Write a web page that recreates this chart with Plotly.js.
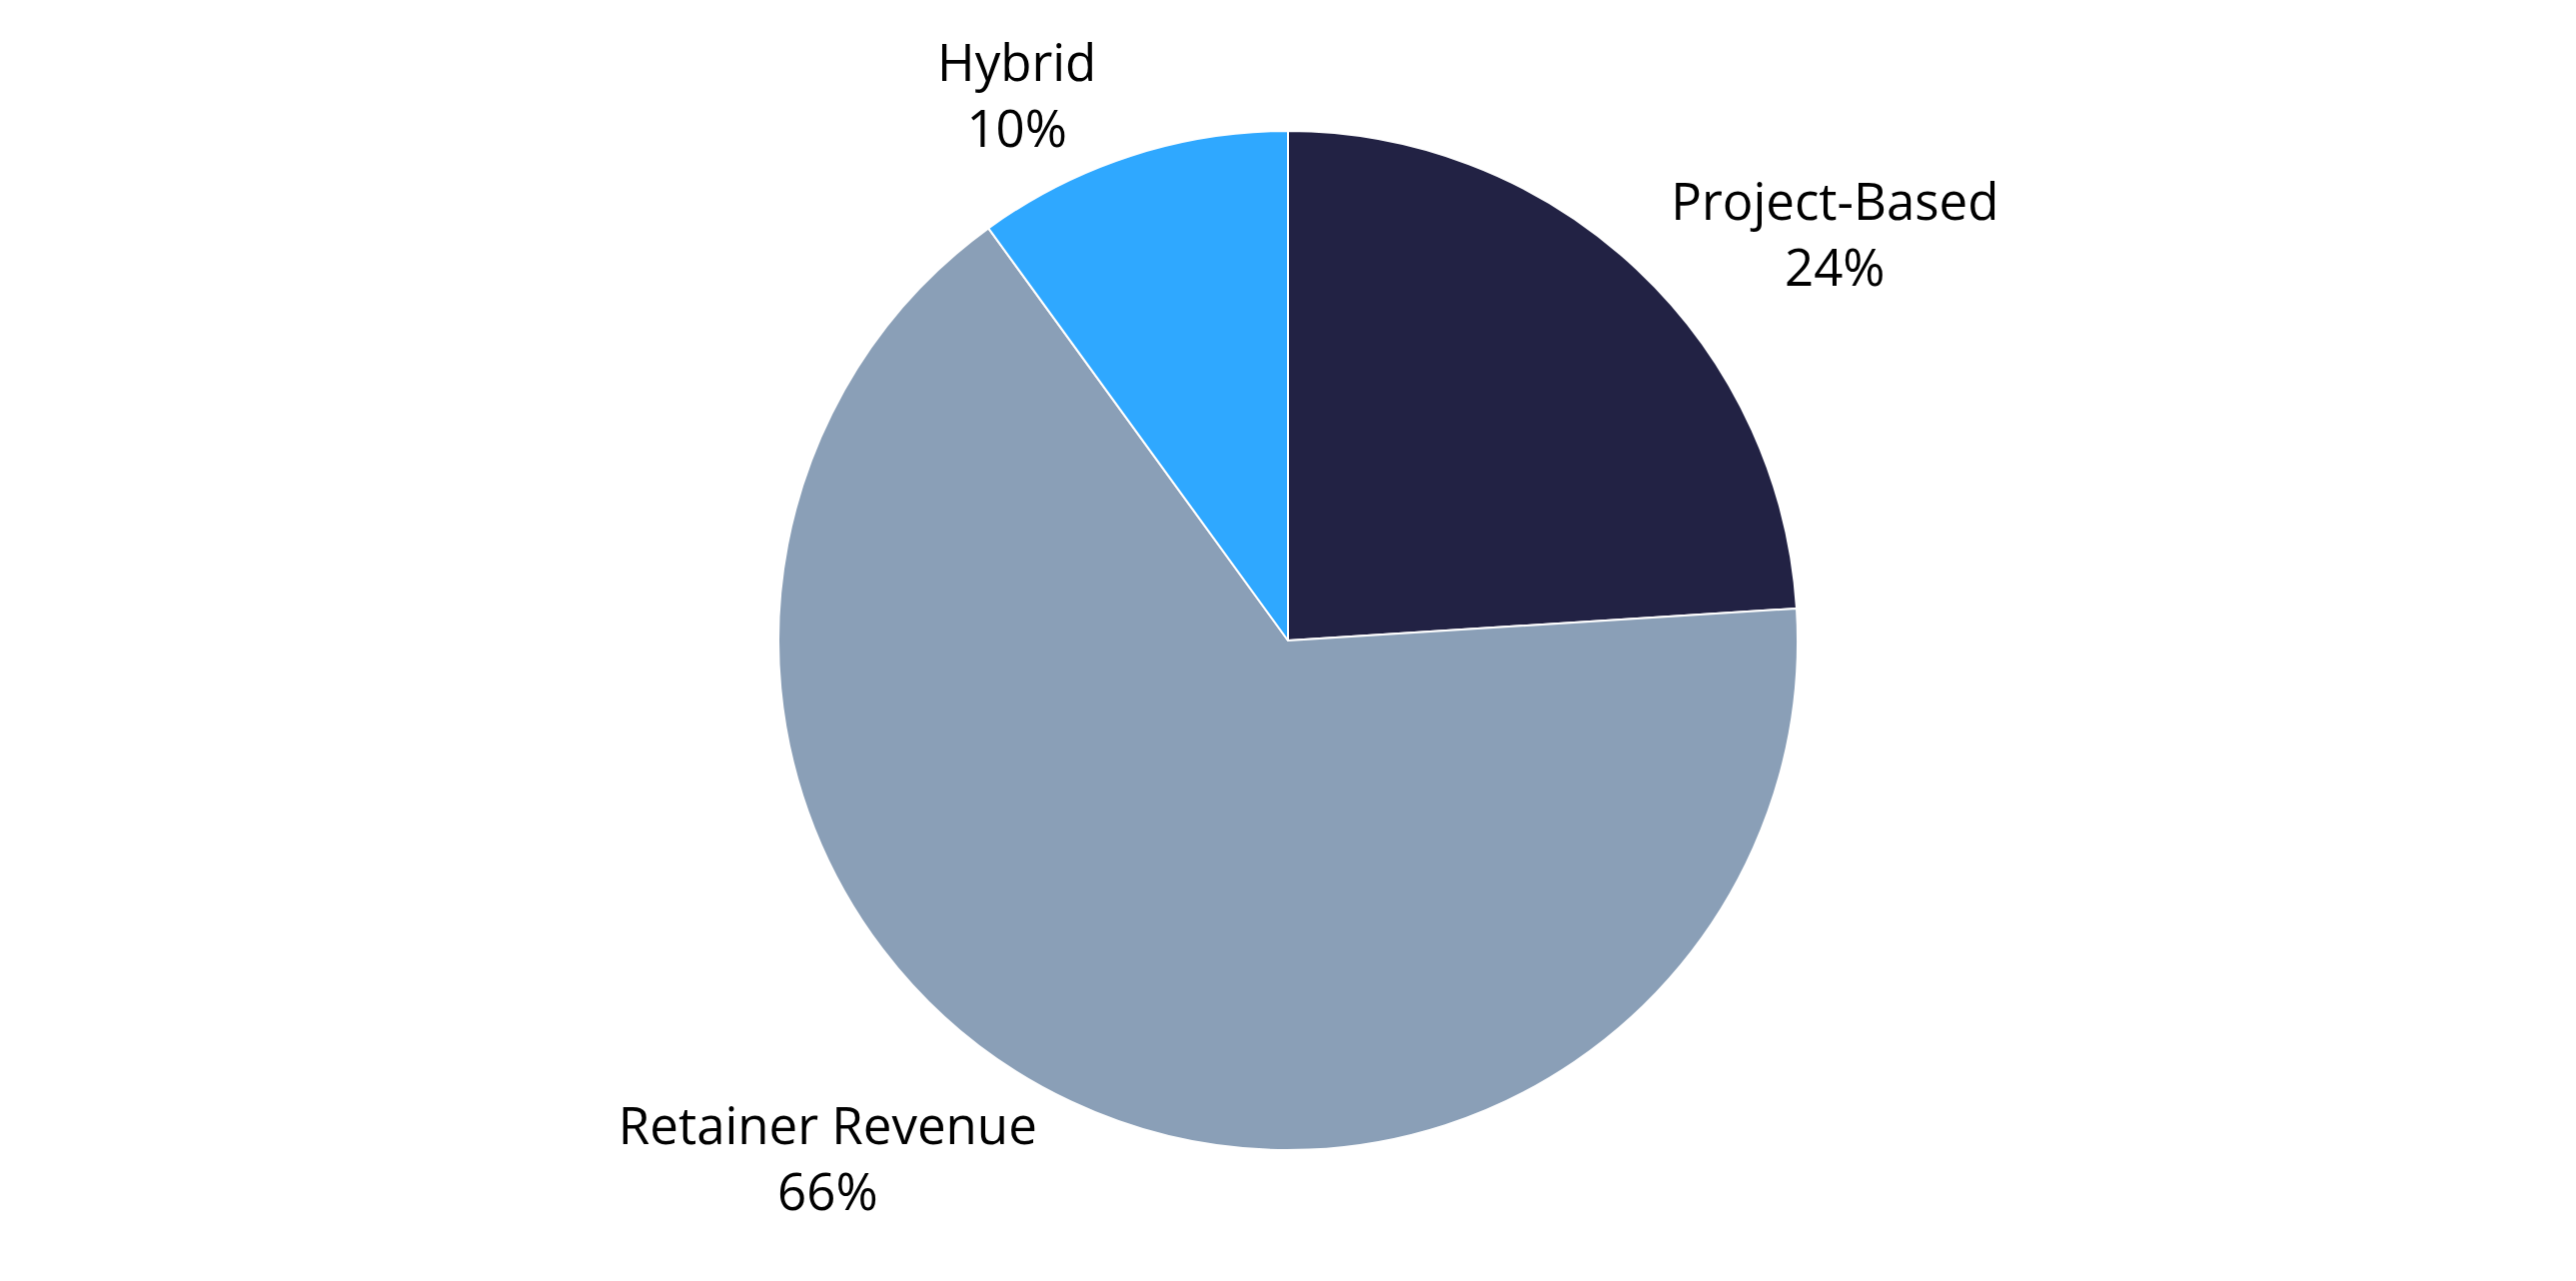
<!DOCTYPE html>
<html>
<head>
<meta charset="utf-8">
<script src="https://cdn.plot.ly/plotly-3.0.1.min.js"></script>
<style>
  html, body { margin: 0; padding: 0; background: #fff; }
  #myDiv { width: 2578px; height: 1282px; }
</style>
</head>
<body>
<div id="myDiv"></div>
<script>
var categories = ["Project-Based", "Retainer Revenue", "Hybrid"]
var shares = [24, 66, 10]
var sliceColors = ["#222244", "#8a9fb7", "#2fa8ff"]

var slices = {
    type: "pie",
    labels: categories,
    values: shares,
    sort: false,
    direction: "clockwise",
    rotation: 0,
    marker: {
        colors: sliceColors,
        line: { color: "#ffffff", width: 2 }
    },
    textinfo: "label+percent",
    textposition: "outside",
    texttemplate: "%{label}<br>%{percent:.0%}",
    textfont: { family: "Open Sans, Noto Sans, sans-serif", size: 51, color: "#000000" },
    hoverinfo: "none"
}

var layout = {
    width: 2578,
    height: 1282,
    showlegend: false,
    paper_bgcolor: "#ffffff",
    margin: { t: 131, b: 131, l: 0, r: 0 }
}

Plotly.newPlot("myDiv", [slices], layout, { displayModeBar: false })
</script>
</body>
</html>
